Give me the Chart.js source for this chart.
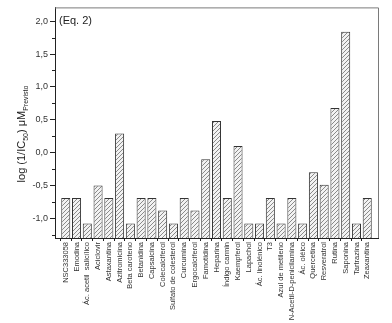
<!DOCTYPE html>
<html>
<head>
<meta charset="utf-8">
<script src="https://cdn.jsdelivr.net/npm/chart.js@4/dist/chart.umd.min.js"></script>
<style>
html,body{margin:0;padding:0;background:#fff;}
</style>
</head>
<body>
<canvas id="c" width="392" height="323"></canvas>
<script>
const categories = ["NSC333058","Emodina","Ác. acetil  salicílico","Aciclovir","Astaxantina","Azitromicina","Beta caroteno","Betanidina","Capsaicina","Colecalciferol","Sulfato de colesterol","Curcumina","Ergocalciferol","Famotidina","Heparina","Índigo carmin","Kaempferol","Lapachol","Ác. linolénico","T3","Azul de metileno","N-Acetil-D-penicilamina","Ác. oléico","Quercetina","Resveratrol","Rutina","Saponina","Tartrazina","Zeaxantina"];
const values = [-0.69,-0.69,-1.08,-0.50,-0.69,0.29,-1.08,-0.69,-0.69,-0.88,-1.08,-0.69,-0.88,-0.10,0.48,-0.69,0.10,-1.08,-1.08,-0.69,-1.08,-0.69,-1.08,-0.30,-0.49,0.68,1.84,-1.08,-0.69];
const yTicks = [-1.0,-0.5,0.0,0.5,1.0,1.5,2.0];
const yMinorTicks = [-1.25,-0.75,-0.25,0.25,0.75,1.25,1.75];
const yMin = -1.3, yMax = 2.21;
const annotationText = "(Eq. 2)";

const FONT = "'Liberation Sans', Arial, sans-serif";

// padded category list so that bars sit one full category in from each edge
const labels = [""].concat(categories, [""]);
const data = [null].concat(values, [null]);

function hatch() {
  const s = 4;
  const c = document.createElement('canvas');
  c.width = s; c.height = s;
  const g = c.getContext('2d');
  g.fillStyle = '#f2f2f2';
  g.fillRect(0,0,s,s);
  g.fillStyle = '#8a8a8a';
  for (let i = 0; i < s; i++) g.fillRect(s - 1 - i, i, 1, 1);
  return g.createPattern(c,'repeat');
}

const extras = {
  id: 'extras',
  afterDraw(chart) {
    const ctx = chart.ctx;
    const a = chart.chartArea;
    const ys = chart.scales.y;
    ctx.save();
    // frame (top/right)
    ctx.strokeStyle = '#7a7a7a';
    ctx.lineWidth = 1;
    ctx.beginPath();
    ctx.moveTo(a.left, a.top + 0.5);
    ctx.lineTo(a.right + 0.5, a.top + 0.5);
    ctx.lineTo(a.right + 0.5, a.bottom);
    ctx.stroke();
    // minor ticks
    ctx.strokeStyle = '#222';
    ctx.beginPath();
    yMinorTicks.forEach(v => {
      const y = Math.round(ys.getPixelForValue(v)) + 0.5;
      ctx.moveTo(a.left - 3, y);
      ctx.lineTo(a.left, y);
    });
    ctx.stroke();
    // annotation
    ctx.fillStyle = '#222';
    ctx.font = '11px ' + FONT;
    ctx.textBaseline = 'middle';
    ctx.textAlign = 'left';
    ctx.fillText(annotationText, a.left + 4, ys.getPixelForValue(2.0));
    // y title with subscripts
    ctx.translate(25, 134);
    ctx.rotate(-Math.PI/2);
    const parts = [
      {t: 'log (1/IC', size: 11, dy: 0},
      {t: '50', size: 7, dy: 3},
      {t: ') \u03BCM', size: 11, dy: 0},
      {t: 'Previsto', size: 7, dy: 3}
    ];
    let total = 0;
    parts.forEach(p => { ctx.font = p.size + 'px ' + FONT; p.w = ctx.measureText(p.t).width; total += p.w; });
    let x = -total/2;
    ctx.textAlign = 'left';
    ctx.textBaseline = 'alphabetic';
    parts.forEach(p => {
      ctx.font = p.size + 'px ' + FONT;
      ctx.fillText(p.t, x, p.dy);
      x += p.w;
    });
    ctx.restore();
  }
};

new Chart(document.getElementById('c'), {
  type: 'bar',
  data: {
    labels: labels,
    datasets: [{
      data: data,
      base: yMin,
      backgroundColor: hatch(),
      borderColor: '#333',
      borderWidth: 1,
      borderSkipped: 'bottom',
      barPercentage: 0.84,
      categoryPercentage: 1.0
    }]
  },
  options: {
    responsive: false,
    animation: false,
    layout: {padding: {left: 0, right: 14, top: 7, bottom: 0}},
    plugins: {legend: {display: false}, tooltip: {enabled: false}},
    scales: {
      x: {
        type: 'category',
        offset: false,
        grid: {
          display: true,
          drawOnChartArea: false,
          tickLength: 3,
          tickColor: c => (c.index === 0 || c.index === labels.length - 1) ? 'rgba(0,0,0,0)' : '#222'
        },
        border: {color: '#222', width: 1},
        ticks: {
          autoSkip: false,
          maxRotation: 90,
          minRotation: 90,
          padding: 1,
          color: '#333',
          font: {size: 7.5, family: FONT}
        },
        afterFit: s => { s.height = 85; }
      },
      y: {
        type: 'linear',
        min: yMin,
        max: yMax,
        afterBuildTicks: s => { s.ticks = yTicks.map(v => ({value: v})); },
        grid: {display: true, drawOnChartArea: false, tickLength: 5, tickColor: '#222'},
        border: {color: '#222', width: 1},
        ticks: {
          padding: 2,
          color: '#333',
          font: {size: 9, family: FONT},
          callback: v => v.toFixed(1).replace('.', ',')
        },
        afterFit: s => { s.width = 55; }
      }
    }
  },
  plugins: [extras]
});
</script>
</body>
</html>
